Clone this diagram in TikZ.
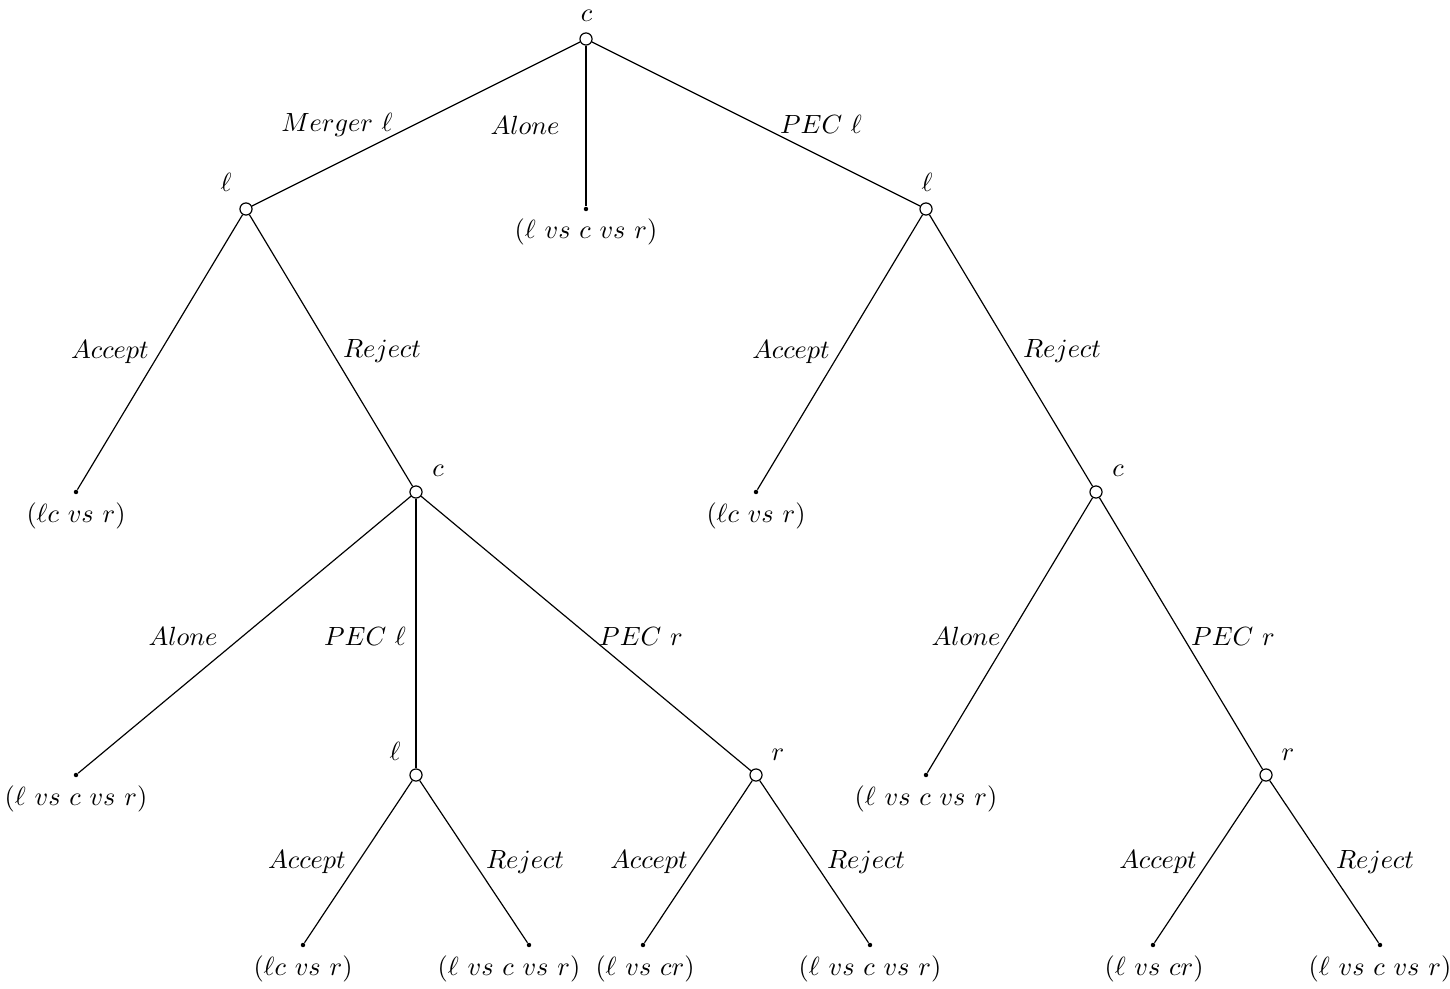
\documentclass[tikz,border=0pt]{standalone}
\begin{document}
\begin{tikzpicture}[x=0.38pt,y=-0.38pt,
  dn/.style={circle,draw,fill=white,minimum size=4.6pt,inner sep=0pt,line width=0.45pt},
  lf/.style={circle,fill,minimum size=1.7pt,inner sep=0pt},
  txt/.style={anchor=base,inner sep=0pt},
  ed/.style={line width=0.45pt}]
\useasboundingbox (0,0) rectangle (1450,989);
% decision nodes
\node[dn] (r)  at (586,39) {};
\node[dn] (l1) at (246,209) {};
\node[dn] (l2) at (926,209) {};
\node[dn] (c1) at (416,492) {};
\node[dn] (c2) at (1096,492) {};
\node[dn] (l3) at (416,775) {};
\node[dn] (r1) at (756,775) {};
\node[dn] (r2) at (1266,775) {};
% terminal nodes
\node[lf] (a1) at (586,209) {};
\node[lf] (t1) at (76,492) {};
\node[lf] (t2) at (756,492) {};
\node[lf] (t3) at (76,775) {};
\node[lf] (t4) at (926,775) {};
\node[lf] (t5) at (303,945) {};
\node[lf] (t6) at (529,945) {};
\node[lf] (t7) at (643,945) {};
\node[lf] (t8) at (870,945) {};
\node[lf] (t9) at (1153,945) {};
\node[lf] (t10) at (1380,945) {};
% edges
\draw[ed] (r) -- (l1);
\draw[ed] (r) -- (a1);
\draw[ed] (r) -- (l2);
\draw[ed] (l1) -- (t1);
\draw[ed] (l1) -- (c1);
\draw[ed] (l2) -- (t2);
\draw[ed] (l2) -- (c2);
\draw[ed] (c1) -- (t3);
\draw[ed] (c1) -- (l3);
\draw[ed] (c1) -- (r1);
\draw[ed] (c2) -- (t4);
\draw[ed] (c2) -- (r2);
\draw[ed] (l3) -- (t5);
\draw[ed] (l3) -- (t6);
\draw[ed] (r1) -- (t7);
\draw[ed] (r1) -- (t8);
\draw[ed] (r2) -- (t9);
\draw[ed] (r2) -- (t10);
% player labels
\node[txt] (pr)  at (586.5,21.5) {$c$};
\node[txt] (pl1) at (226,192) {$\ell$};
\node[txt] (pl2) at (927,192) {$\ell$};
\node[txt] (pc1) at (438,476.5) {$c$};
\node[txt] (pc2) at (1118,476.5) {$c$};
\node[txt] (pl3) at (395,760) {$\ell$};
\node[txt] (pr1) at (778,760.5) {$r$};
\node[txt] (pr2) at (1288,760.5) {$r$};
% action labels
\node[txt] (e1) at (337,132) {$Merger\ \ell$};
\node[txt] (e2) at (525,135) {$Alone$};
\node[txt] (e3) at (821,134) {$PEC\ \ell$};
\node[txt] (e4) at (110,358) {$Accept$};
\node[txt] (e5) at (382,357) {$Reject$};
\node[txt] (e6) at (791,358) {$Accept$};
\node[txt] (e7) at (1062,357) {$Reject$};
\node[txt] (e8) at (183,645) {$Alone$};
\node[txt] (e9) at (365,645) {$PEC\ \ell$};
\node[txt] (e10) at (641,645) {$PEC\ r$};
\node[txt] (e11) at (966,645) {$Alone$};
\node[txt] (e12) at (1233,645) {$PEC\ r$};
\node[txt] (e13) at (307,868) {$Accept$};
\node[txt] (e14) at (525,868) {$Reject$};
\node[txt] (e15) at (649,868) {$Accept$};
\node[txt] (e16) at (866,868) {$Reject$};
\node[txt] (e17) at (1158,868) {$Accept$};
\node[txt] (e18) at (1375,868) {$Reject$};
% payoff labels
\node[txt] (o1) at (586,239) {$(\ell\ vs\ c\ vs\ r)$};
\node[txt] (o2) at (76,522) {$(\ell c\ vs\ r)$};
\node[txt] (o3) at (756,522) {$(\ell c\ vs\ r)$};
\node[txt] (o4) at (76,805) {$(\ell\ vs\ c\ vs\ r)$};
\node[txt] (o5) at (926,805) {$(\ell\ vs\ c\ vs\ r)$};
\node[txt] (o6) at (303,975) {$(\ell c\ vs\ r)$};
\node[txt] (o7) at (509,975) {$(\ell\ vs\ c\ vs\ r)$};
\node[txt] (o8) at (645,975) {$(\ell\ vs\ cr)$};
\node[txt] (o9) at (870,975) {$(\ell\ vs\ c\ vs\ r)$};
\node[txt] (o10) at (1154,975) {$(\ell\ vs\ cr)$};
\node[txt] (o11) at (1380,975) {$(\ell\ vs\ c\ vs\ r)$};
\end{tikzpicture}
\end{document}
